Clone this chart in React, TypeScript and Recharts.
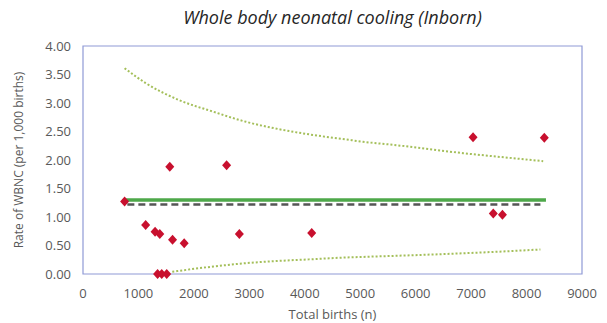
import {
  ComposedChart,
  Line,
  Scatter,
  XAxis,
  YAxis,
  ReferenceArea,
  Label
} from 'recharts';

// Unidades (nacimientos totales) y tasa observada por 1.000 nacimientos
const births = [750, 1130, 1300, 1385, 1565, 1615, 1825, 2590, 2820, 4125, 1345, 1420, 1510, 7035, 8320, 7400, 7565];
const rates = [1.27, 0.86, 0.74, 0.70, 1.88, 0.60, 0.54, 1.91, 0.70, 0.72, 0, 0, 0, 2.40, 2.39, 1.06, 1.04];

// Líneas de referencia
const meanBirths = [750, 8350];
const meanRate = [1.30, 1.30];
const targetBirths = [800, 8250];
const targetRate = [1.22, 1.22];

// Límites del embudo
const upperBirths = [750, 1130, 1735, 2340, 2940, 3540, 4145, 4750, 5050, 5650, 6250, 6855, 7460, 8300];
const upperRate = [3.61, 3.35, 3.05, 2.85, 2.67, 2.54, 2.44, 2.36, 2.32, 2.26, 2.19, 2.12, 2.06, 1.98];
const lowerBirths = [1610, 2340, 2940, 3540, 4145, 4750, 5050, 6250, 7460, 8250];
const lowerRate = [0.04, 0.13, 0.19, 0.23, 0.26, 0.29, 0.30, 0.34, 0.39, 0.43];

const xTicks = [0, 1000, 2000, 3000, 4000, 5000, 6000, 7000, 8000, 9000];
const yTicks = [0, 0.5, 1, 1.5, 2, 2.5, 3, 3.5, 4];

const zip = (xs: number[], ys: number[]) => xs.map((x, i) => ({ x, y: ys[i] }));

const units = zip(births, rates);
const mean = zip(meanBirths, meanRate);
const target = zip(targetBirths, targetRate);
const upper = zip(upperBirths, upperRate);
const lower = zip(lowerBirths, lowerRate);

const FONT = '"Open Sans", Calibri, sans-serif';
const tick = { fill: '#595959', fontSize: 13, fontFamily: FONT };

const Diamond = (props: any) => {
  const { cx, cy } = props;
  if (cx == null || cy == null) return null;
  return (
    <polygon
      points={`${cx},${cy - 5} ${cx + 4.5},${cy} ${cx},${cy + 5} ${cx - 4.5},${cy}`}
      fill="#c8102e"
    />
  );
};

export default function App() {
  return (
    <div style={{ position: 'absolute', left: 0, top: 0, width: 607, height: 323, background: '#fff' }}>
      <div
        style={{
          position: 'absolute',
          left: 83,
          width: 499,
          top: 5,
          textAlign: 'center',
          fontFamily: FONT,
          fontStyle: 'italic',
          fontSize: 18,
          color: '#262626'
        }}
      >
        Whole body neonatal cooling (Inborn)
      </div>
      <ComposedChart width={607} height={323} margin={{ top: 46, right: 25, bottom: 19, left: 0 }}>
        <XAxis
          type="number"
          dataKey="x"
          domain={[0, 9000]}
          ticks={xTicks}
          tick={tick}
          tickLine={false}
          axisLine={false}
          height={30}
          tickMargin={9}
        >
          <Label value="Total births (n)" position="insideBottom" offset={-15} style={{ fill: '#595959', fontSize: 13, fontFamily: FONT }} />
        </XAxis>
        <YAxis
          type="number"
          dataKey="y"
          domain={[0, 4]}
          ticks={yTicks}
          tick={tick}
          tickLine={false}
          axisLine={false}
          width={83}
          tickMargin={6}
          tickFormatter={(v: number) => v.toFixed(2)}
        >
          <Label
            value="Rate of WBNC (per 1,000 births)"
            angle={-90}
            position="insideLeft"
            offset={19}
            style={{ textAnchor: 'middle', fill: '#595959', fontSize: 12, fontFamily: FONT }}
          />
        </YAxis>
        <ReferenceArea x1={0} x2={9000} y1={0} y2={4} fill="none" stroke="#8f9ad6" strokeWidth={1.2} />
        <Line data={upper} dataKey="y" type="monotone" stroke="#a4bf5a" strokeWidth={2} strokeDasharray="2 2" dot={false} isAnimationActive={false} />
        <Line data={lower} dataKey="y" type="monotone" stroke="#a4bf5a" strokeWidth={2} strokeDasharray="2 2" dot={false} isAnimationActive={false} />
        <Line data={mean} dataKey="y" stroke="#4ea84a" strokeWidth={3.5} dot={false} isAnimationActive={false} />
        <Line data={target} dataKey="y" stroke="#555555" strokeWidth={2.5} strokeDasharray="7 4" dot={false} isAnimationActive={false} />
        <Scatter data={units} dataKey="y" shape={Diamond} isAnimationActive={false} />
      </ComposedChart>
    </div>
  );
}
